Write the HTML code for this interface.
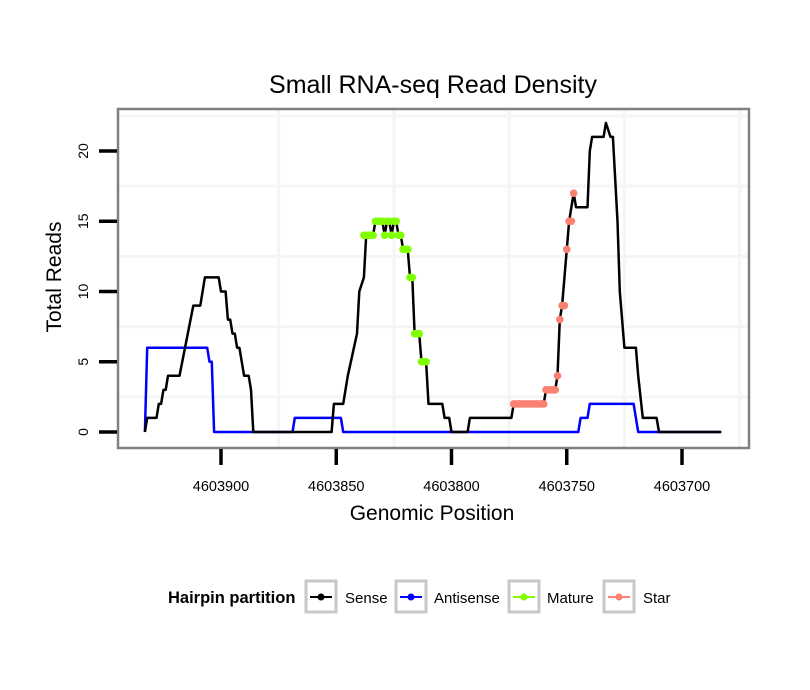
<!DOCTYPE html>
<html><head><meta charset="utf-8"><style>
body{margin:0;background:#fff;}
svg{display:block;font-family:"Liberation Sans",Arial,sans-serif;}
</style></head><body>
<svg id="chart" width="810" height="690">
<rect width="810" height="690" fill="#fff"/>
<text x="433" y="93" text-anchor="middle" font-size="25" fill="#000">Small RNA-seq Read Density</text>
<rect x="118" y="109" width="631" height="339" fill="#fff"/>
<g id="grid"></g>
<g id="series"></g>
<rect x="118" y="109" width="631" height="339" fill="none" stroke="#808080" stroke-width="2.5"/>
<g id="axes"></g>
<text transform="translate(61,277) rotate(-90)" text-anchor="middle" font-size="21">Total Reads</text>
<text x="432" y="520" text-anchor="middle" font-size="21">Genomic Position</text>
<g>
<text x="168" y="603" font-size="16.5" font-weight="bold">Hairpin partition</text>
<g><rect x="306" y="581" width="30" height="31" fill="#fff" stroke="#c8c8c8" stroke-width="3"/><line x1="310" y1="597" x2="332" y2="597" stroke="#000" stroke-width="2"/><circle cx="321" cy="597" r="3.5" fill="#000"/><text x="345" y="603" font-size="15">Sense</text></g>
<g><rect x="396" y="581" width="30" height="31" fill="#fff" stroke="#c8c8c8" stroke-width="3"/><line x1="400" y1="597" x2="422" y2="597" stroke="#0000ff" stroke-width="2"/><circle cx="411" cy="597" r="3.5" fill="#0000ff"/><text x="434" y="603" font-size="15">Antisense</text></g>
<g><rect x="509" y="581" width="30" height="31" fill="#fff" stroke="#c8c8c8" stroke-width="3"/><line x1="513" y1="597" x2="535" y2="597" stroke="#7fff00" stroke-width="2"/><circle cx="524" cy="597" r="3.5" fill="#7fff00"/><text x="547" y="603" font-size="15">Mature</text></g>
<g><rect x="604" y="581" width="30" height="31" fill="#fff" stroke="#c8c8c8" stroke-width="3"/><line x1="608" y1="597" x2="630" y2="597" stroke="#fa8072" stroke-width="2"/><circle cx="619" cy="597" r="3.5" fill="#fa8072"/><text x="643" y="603" font-size="15">Star</text></g>
</g>
</svg>
<script>
const xTicks=[4603900,4603850,4603800,4603750,4603700];
const yTicks=[0,5,10,15,20];
const senseX=[4603933,4603932,4603928,4603927,4603926,4603925,4603924,4603923,4603918,4603912,4603909,4603907,4603901,4603900,4603898,4603897,4603896,4603895,4603894,4603893,4603892,4603890,4603888,4603887,4603886,
4603852,4603851,4603847,4603845,4603841,4603840,4603838,4603837,4603834,4603833,4603830,4603829,4603828,4603827,4603826,4603825,4603824,4603823,4603822,4603821,4603819,4603818,4603817,4603816,4603814,4603813,4603811,4603810,4603804,4603803,4603801,4603800,
4603793,4603792,4603774,4603773,4603760,4603759,4603755,4603754,4603753,4603752,4603750,4603749,4603747,4603746,4603741,4603740,4603739,4603734,4603733,4603731,4603730,4603728,4603727,4603725,4603720,4603719,4603717,4603711,4603710,4603683];
const senseY=[0,1,1,2,2,3,3,4,4,9,9,11,11,10,10,8,8,7,7,6,6,4,4,3,0,
0,2,2,4,7,10,11,14,14,15,15,14,15,15,14,15,15,14,14,13,13,11,11,7,7,5,5,2,2,1,1,0,
0,1,1,2,2,3,3,4,8,9,13,15,17,16,16,20,21,21,22,21,21,15,10,6,6,4,1,1,0,0];
const antiX=[4603933,4603932,4603906,4603905,4603904,4603903,4603869,4603868,4603848,4603847,4603745,4603744,4603741,4603740,4603721,4603719,4603683];
const antiY=[0,6,6,5,5,0,0,1,1,0,0,1,1,2,2,0,0];
const matureX=[4603838,4603837,4603836,4603835,4603834,4603833,4603832,4603831,4603830,4603829,4603828,4603827,4603826,4603825,4603824,4603823,4603822,4603821,4603820,4603819,4603818,4603817,4603816,4603815,4603814,4603813,4603812,4603811];
const matureY=[14,14,14,14,14,15,15,15,15,14,15,15,14,15,15,14,14,13,13,13,11,11,7,7,7,5,5,5];
const starX=[4603773,4603772,4603771,4603770,4603769,4603768,4603767,4603766,4603765,4603764,4603763,4603762,4603761,4603760,4603759,4603758,4603757,4603756,4603755,4603754,4603753,4603752,4603751,4603750,4603749,4603748,4603747];
const starY=[2,2,2,2,2,2,2,2,2,2,2,2,2,2,3,3,3,3,3,4,8,9,9,13,15,15,17];

const NS='http://www.w3.org/2000/svg';
function xs(p){return 221+(4603900-p)*2.305;}
function ys(v){return 432-v*14.05;}
function mk(tag,attrs,parent){const e=document.createElementNS(NS,tag);for(const k in attrs)e.setAttribute(k,attrs[k]);parent.appendChild(e);return e;}
const grid=document.getElementById('grid'),series=document.getElementById('series'),axes=document.getElementById('axes');
for(let i=0;i<xTicks.length;i++){const p=xTicks[i]-25;const x=xs(p);if(x>118&&x<749){const g=mk('line',{x1:x,y1:110,x2:x,y2:447,stroke:'#f5f5f5','stroke-width':3},grid);

}}
for(let i=0;i<yTicks.length;i++){const y=ys(yTicks[i]+2.5);if(y>110){const g=mk('line',{x1:119,y1:y,x2:748,y2:y,stroke:'#f5f5f5','stroke-width':3},grid);

}}
function path(X,Y,color,name){const d=X.map((p,i)=>(i?'L':'M')+xs(p).toFixed(1)+','+ys(Y[i]).toFixed(1)).join('');const e=mk('path',{d:d,fill:'none',stroke:color,'stroke-width':2.5,'stroke-linejoin':'round'},series);

}
path(antiX,antiY,'#0000ff','antisense-line');
path(senseX,senseY,'#000000','sense-line');
function pts(X,Y,color,name){for(let i=0;i<X.length;i++){const c=mk('circle',{cx:xs(X[i]),cy:ys(Y[i]),r:3.8,fill:color},series);

}}
pts(matureX,matureY,'#7fff00','mature-point');
pts(starX,starY,'#fa8072','star-point');
for(const v of yTicks){const y=ys(v);const t=mk('line',{x1:99,y1:y,x2:117,y2:y,stroke:'#000','stroke-width':3.5},axes);


const l=mk('text',{transform:'translate(88,'+y+') rotate(-90)','text-anchor':'middle','font-size':14},axes);l.textContent=v;

}
for(const p of xTicks){const x=xs(p);const t=mk('line',{x1:x,y1:449,x2:x,y2:465,stroke:'#000','stroke-width':3.5},axes);


const l=mk('text',{x:x,y:491,'text-anchor':'middle','font-size':14.5},axes);l.textContent=p;

}
</script>
</body></html>
